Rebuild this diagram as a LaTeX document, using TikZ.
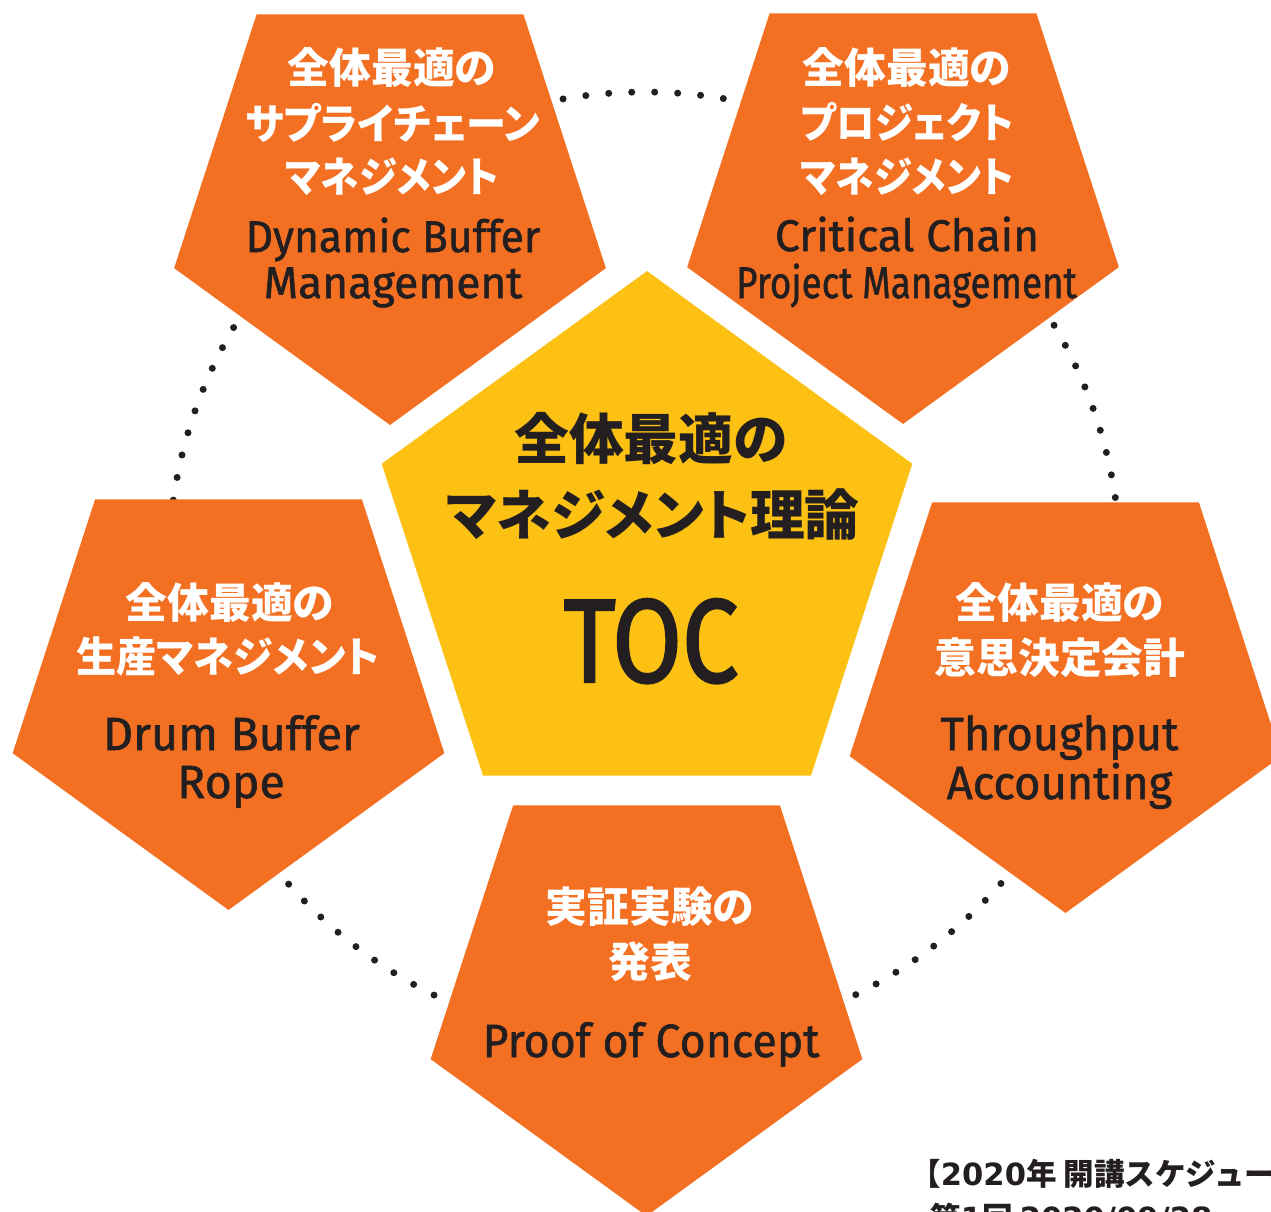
\documentclass[tikz,border=0pt]{standalone}
\usepackage{fontspec}
\setmainfont{Fira Sans}
\newfontfamily\enfont{Fira Sans}[FakeBold=1.2]
\newfontfamily\tocfont{Fira Sans}[FakeBold=2]
\newfontfamily\jpfont{Noto Sans CJK JP}[RawFeature=+palt]
\newfontfamily\jpplain{Noto Sans CJK JP}
\newfontfamily\dvfont{DejaVu Sans}
\usetikzlibrary{shapes.geometric}
\definecolor{orng}{RGB}{243,112,35}
\definecolor{yel}{RGB}{252,193,19}
\definecolor{ink}{RGB}{35,31,32}
\tikzset{
  opent/.style={regular polygon, regular polygon sides=5, shape border rotate=180,
    minimum size=9.08cm, fill=orng, inner sep=0pt, outer sep=0pt},
  ypent/.style={regular polygon, regular polygon sides=5,
    minimum size=11.16cm, fill=yel, inner sep=0pt, outer sep=0pt},
  jpw/.style={text=white, inner sep=0pt, font=\jpfont\bfseries\fontsize{23.8}{28}\selectfont},
  en/.style={text=ink, inner sep=0pt, anchor=base, font=\enfont\fontsize{25.2}{28}\selectfont},
  enb/.style={en, font=\enfont\fontsize{26.5}{30}\selectfont},
  jpc/.style={text=ink, inner sep=0pt, font=\jpfont\bfseries\fontsize{31.2}{36}\selectfont},
  note/.style={text=ink, inner sep=0pt, anchor=base west, font=\jpplain\bfseries\fontsize{17.4}{20}\selectfont},
  dots/.style={ink, line width=0.14cm, line cap=round, dash pattern=on 0pt off 0.46cm},
}
\newcommand{\sqz}[2]{\scalebox{#1}[1]{#2}}
\begin{document}
\begin{tikzpicture}[x=0.02cm,y=-0.02cm]
\useasboundingbox (0,0) rectangle (1271,1211);
\clip (0,0) rectangle (1271,1211);
\fill[white] (0,0) rectangle (1271,1211);
% dotted ring
\coordinate (dc) at (644.5,568);
\draw[dots] (dc) circle[radius=476];
% pentagons
\node[opent] (ptl) at (390,198) {};
\node[opent] (ptr) at (903,197) {};
\node[opent] (pl) at (228.5,683) {};
\node[opent] (pr) at (1065.5,686) {};
\node[opent] (pb) at (646.5,989) {};
\node[ypent] (pc) at (647,550) {};
% top-left
\node[jpw] (tl1) at (392,68) {全体最適の};
\node[jpw] (tl2) at (393,123) {\sqz{0.96}{サプライチェーン}};
\node[jpw] (tl3) at (392,177) {\sqz{0.92}{マネジメント}};
\node[en] (tl4) at (393,252) {\sqz{0.96}{Dynamic Buffer}};
\node[en] (tl5) at (393,298) {Management};
% top-right
\node[jpw] (tr1) at (907,68) {全体最適の};
\node[jpw] (tr2) at (907,122) {\sqz{0.92}{プロジェクト}};
\node[jpw] (tr3) at (907,177) {\sqz{0.92}{マネジメント}};
\node[en] (tr4) at (907,251) {Critical Chain};
\node[en] (tr5) at (906.5,298) {\sqz{0.83}{Project Management}};
% left
\node[jpw] (l1) at (230,603) {全体最適の};
\node[jpw] (l2) at (228,657) {\sqz{0.96}{生産マネジメント}};
\node[enb] (l3) at (231.5,750) {Drum Buffer};
\node[enb] (l4) at (231,798) {Rope};
% right
\node[jpw] (r1) at (1060,603) {全体最適の};
\node[jpw] (r2) at (1060,658) {意思決定会計};
\node[enb] (r3) at (1059.5,750) {\sqz{0.97}{Throughput}};
\node[enb] (r4) at (1059.5,799) {\sqz{0.97}{Accounting}};
% bottom
\node[jpw] (b1) at (650,907) {実証実験の};
\node[jpw] (b2) at (650.5,962) {発表};
\node[enb] (b3) at (651,1057) {\sqz{0.96}{Proof of Concept}};
% centre
\node[jpc] (c1) at (651,439) {全体最適の};
\node[jpc] (c2) at (653,515) {マネジメント理論};
\node[text=ink, inner sep=0pt, anchor=base, font=\tocfont\fontsize{67.5}{70}\selectfont] (c3) at (651,682) {\sqz{0.85}{TOC}};
% note
\node[note] (n1) at (910,1185) {【{\dvfont\bfseries 2020}年 開講スケジュー};
\node[note] (n2) at (930,1229) {第{\dvfont\bfseries 1}回 {\dvfont\bfseries 2020/09/28}};
\end{tikzpicture}
\end{document}
